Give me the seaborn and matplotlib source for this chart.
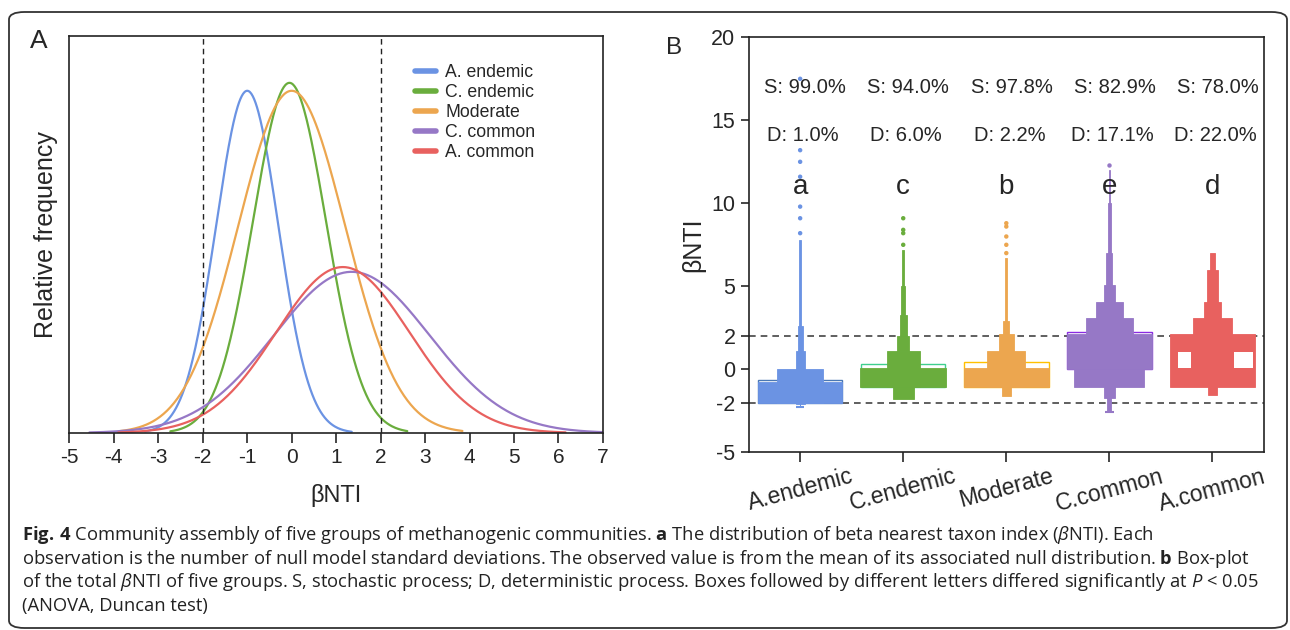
import numpy as np
import matplotlib
matplotlib.use('Agg')
import matplotlib.pyplot as plt
import seaborn as sns
from matplotlib.lines import Line2D
from matplotlib.patches import FancyBboxPatch

# ---------------- data ----------------
groups = ['A. endemic', 'C. endemic', 'Moderate', 'C. common', 'A. common']
tick_names = ['A.endemic', 'C.endemic', 'Moderate', 'C.common', 'A.common']
colors = ['#6b93e3', '#6aad3d', '#eca64f', '#9678c6', '#e8615f']
outline_colors = ['#4a78b5', '#3fcf8e', '#ffc000', '#8a2be2', '#e8615f']

# panel A: fitted normal curves (mean, sd, peak height, x range)
means = [-1.0, -0.05, 0.0, 1.35, 1.15]
sds = [0.70, 0.82, 1.2, 1.75, 1.5]
peaks = [0.862, 0.882, 0.862, 0.406, 0.418]
x_lo = [-3.3, -2.73, -3.86, -4.55, -3.9]
x_hi = [1.35, 2.6, 3.84, 7.0, 6.16]

# panel B: stepped profiles (low, high, half width)
steps_a_endemic = [(-2.05, -0.76, 0.41), (-2.05, 0.0, 0.22), (-2.1, 1.1, 0.045),
                   (1.1, 2.6, 0.024), (2.6, 7.8, 0.011)]
steps_c_endemic = [(-1.04, 0.1, 0.415), (-1.04, 1.1, 0.16), (-1.8, -1.04, 0.10),
                   (1.1, 2.0, 0.056), (2.0, 3.3, 0.035), (3.3, 5.0, 0.02), (5.0, 7.2, 0.01)]
steps_moderate = [(-1.04, 0.1, 0.415), (-1.04, 1.1, 0.185), (-1.6, -1.04, 0.045),
                  (1.1, 2.1, 0.073), (2.1, 2.9, 0.028), (2.9, 6.7, 0.01)]
steps_c_common = [(0.0, 2.1, 0.41), (-1.04, 0.0, 0.34), (2.1, 3.07, 0.23),
                  (3.07, 4.08, 0.13), (4.08, 5.08, 0.056), (5.08, 7.0, 0.03),
                  (7.0, 10.0, 0.015), (10.0, 12.0, 0.007), (-1.7, -1.04, 0.056),
                  (-2.5, -1.7, 0.02)]
steps_a_common = [(-1.04, 2.1, 0.41), (2.1, 3.07, 0.19), (3.07, 4.08, 0.085),
                  (4.08, 6.0, 0.05), (6.0, 7.0, 0.024), (-1.55, -1.04, 0.04)]
all_steps = [steps_a_endemic, steps_c_endemic, steps_moderate, steps_c_common, steps_a_common]

# sparse points above the dense part
dots_a_endemic = [8.2, 9.1, 9.8, 11.6, 12.5, 13.2, 17.5]
dots_c_endemic = [7.5, 8.2, 8.4, 9.1]
dots_moderate = [7.0, 7.5, 8.0, 8.6, 8.8]
dots_c_common = [12.3]
dots_a_common = []
all_dots = [dots_a_endemic, dots_c_endemic, dots_moderate, dots_c_common, dots_a_common]

# box outlines (bottom, top) and lower whisker caps
box_bottom = [-2.05, -1.04, -1.04, 0.0, None]
box_top = [-0.64, 0.32, 0.44, 2.25, None]
caps = [-2.3, None, None, -2.55, None]

# low-density gaps in A.common (low, high, left, right offsets)
gaps_a_common = [(0.1, 1.06, -0.33, -0.21), (0.1, 1.06, 0.21, 0.395)]

s_pct = [99.0, 94.0, 97.8, 82.9, 78.0]
d_pct = [1.0, 6.0, 2.2, 17.1, 22.0]
letters = ['a', 'c', 'b', 'e', 'd']

# ---------------- style ----------------
sns.set_style('ticks')
plt.rcParams['font.family'] = ['Liberation Sans', 'DejaVu Sans']
plt.rcParams['axes.unicode_minus'] = False
plt.rcParams['mathtext.fontset'] = 'custom'
plt.rcParams['mathtext.rm'] = 'Open Sans'
plt.rcParams['mathtext.it'] = 'Open Sans:italic'
plt.rcParams['mathtext.bf'] = 'Open Sans:bold'

fig = plt.figure(figsize=(12.9, 6.3), dpi=100)
W, H = 1290, 630
axA = fig.add_axes([69.4 / W, 1 - 433 / H, (602.9 - 69.4) / W, (433 - 36) / H])
axB = fig.add_axes([748.6 / W, 1 - 452.3 / H, (1264 - 748.6) / W, (452.3 - 37.3) / H])

# ---------------- panel A ----------------
for g, c, m, s, p, lo, hi in zip(groups, colors, means, sds, peaks, x_lo, x_hi):
    xs = np.linspace(lo, hi, 300)
    ys = p * np.exp(-0.5 * ((xs - m) / s) ** 2)
    sns.lineplot(x=xs, y=ys, color=c, lw=1.6, ax=axA)
for v in [-2, 2]:
    axA.axvline(v, color='#222222', lw=1.0, ls=(0, (4, 3)))
axA.set_xlim(-5, 7)
axA.set_ylim(0, 1)
axA.set_xticks(range(-5, 8))
axA.set_yticks([])
axA.tick_params(axis='x', direction='out', length=7, width=1.2, labelsize=15, pad=4)
for sp in axA.spines.values():
    sp.set_linewidth(1.2)
    sp.set_color('#222222')
axA.set_xlabel('βNTI', fontsize=17, labelpad=12)
axA.set_ylabel('Relative frequency', fontsize=18, labelpad=8)
handles = [Line2D([0], [0], color=c, lw=4) for c in colors]
axA.legend(handles, groups, loc='upper left', bbox_to_anchor=(0.635, 0.948),
           frameon=False, fontsize=12.7, handlelength=1.2, handletextpad=0.5,
           labelspacing=0.18, borderaxespad=0)

# ---------------- panel B ----------------
for i, (steps, c) in enumerate(zip(all_steps, colors)):
    if box_top[i] is not None:
        axB.bar(i, box_top[i] - box_bottom[i], bottom=box_bottom[i], width=0.82,
                fill=False, edgecolor=outline_colors[i], lw=1.0, zorder=2)
    for lo, hi, hw in steps:
        axB.bar(i, hi - lo, bottom=lo, width=2 * hw, color=c, edgecolor=c,
                lw=0.6, zorder=3)
    if caps[i] is not None:
        axB.bar(i, steps[-1][0] - caps[i], bottom=caps[i], width=0.01,
                color=c, lw=0, zorder=3)
        axB.hlines(caps[i], i - 0.04, i + 0.04, color=c, lw=1.5, zorder=3)

for lo, hi, l, r in gaps_a_common:
    axB.bar(4 + (l + r) / 2, hi - lo, bottom=lo, width=r - l, color='white',
            lw=0, zorder=4)

dot_x = [tick_names[i] for i, d in enumerate(all_dots) for _ in d]
dot_y = [v for d in all_dots for v in d]
sns.stripplot(x=dot_x, y=dot_y, hue=dot_x, order=tick_names, hue_order=tick_names,
              palette=colors, jitter=False, size=3.2, linewidth=0, legend=False,
              ax=axB, zorder=5)

for v in [2, -2]:
    axB.axhline(v, color='#444444', lw=1.2, ls=(0, (4, 3)), zorder=1)

for i in range(5):
    axB.text(i + 0.05, 17.0, f'S: {s_pct[i]:.1f}%', ha='center', va='center', fontsize=14.5)
    axB.text(i + 0.03, 14.1, f'D: {d_pct[i]:.1f}%', ha='center', va='center', fontsize=14.5)
    axB.text(i, 11.0, letters[i], ha='center', va='center', fontsize=20)

axB.set_xlim(-0.5, 4.5)
axB.set_ylim(-5, 20)
axB.set_yticks([-5, -2, 0, 2, 5, 10, 15, 20])
axB.set_xticks(range(5))
axB.set_xticklabels(tick_names, rotation=15, ha='center', fontsize=16.5)
axB.tick_params(axis='both', direction='out', length=6, width=1.2, labelsize=15.5)
axB.tick_params(axis='x', labelsize=16.5, length=7, pad=2)
for sp in axB.spines.values():
    sp.set_linewidth(1.2)
    sp.set_color('#222222')
axB.set_xlabel('')
axB.set_ylabel('βNTI', fontsize=18, labelpad=4)

# panel letters
fig.text(38.7 / W, 1 - 40.5 / H, 'A', fontsize=19, ha='center', va='center')
fig.text(674 / W, 1 - 48 / H, 'B', fontsize=17.5, ha='center', va='center')

# caption
caption = [
    r'$\mathbf{Fig.\,4}$ Community assembly of five groups of methanogenic communities. '
    r'$\mathbf{a}$ The distribution of beta nearest taxon index ($\mathit{β}$NTI). Each',
    'observation is the number of null model standard deviations. The observed value is from '
    r'the mean of its associated null distribution. $\mathbf{b}$ Box-plot',
    r'of the total $\mathit{β}$NTI of five groups. S, stochastic process; D, deterministic '
    r'process. Boxes followed by different letters differed significantly at $P$ < 0.05',
    '(ANOVA, Duncan test)',
]
for k, line in enumerate(caption):
    fig.text(22 / W, 1 - (535 + 23.7 * k) / H, line, fontsize=13.2, family='Open Sans',
             ha='left', va='center', color='#222222')

# rounded frame
frame = FancyBboxPatch((9 / W, 1 - 628 / H), (1287 - 9) / W, (628 - 12) / H,
                       boxstyle='round,pad=0,rounding_size=0.012', transform=fig.transFigure,
                       fill=False, edgecolor='#333333', lw=1.3)
fig.patches.append(frame)

fig.savefig('out.png', dpi=100)
